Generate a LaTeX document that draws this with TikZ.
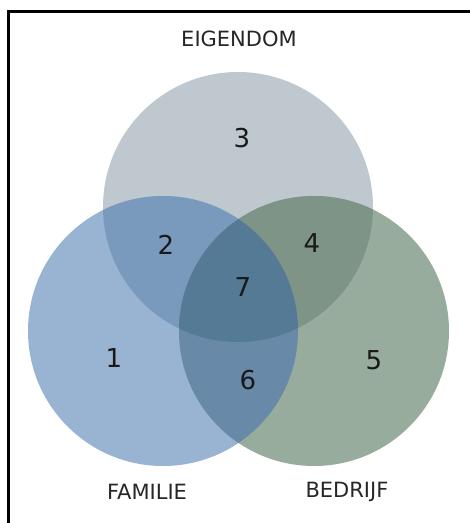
\documentclass[tikz,border=0pt]{standalone}
\usepackage{fontspec}
\setmainfont{DejaVu Sans}
\usetikzlibrary{positioning}
\definecolor{eigen}{HTML}{BEC8CE}
\definecolor{famil}{HTML}{99B3D2}
\definecolor{bedri}{HTML}{98AC9E}
\definecolor{famei}{HTML}{7A9ABD}
\definecolor{bedei}{HTML}{7D9486}
\definecolor{fambe}{HTML}{6889A8}
\definecolor{alle}{HTML}{557A96}
\begin{document}
\begin{tikzpicture}[x=1pt,y=-1pt,
  kader/.style={line width=3pt,draw=black},
  titel/.style={font=\fontsize{21}{25}\selectfont,text=black!85},
  cijfer/.style={font=\fontsize{26}{31}\selectfont,text=black!90}]
  \useasboundingbox (0,0) rectangle (470,523);
  \draw[kader] (8,523) -- (8,11) -- (470,11);
  % middelpunten van de cirkels
  \coordinate (E) at (238,207);
  \coordinate (F) at (163,331);
  \coordinate (B) at (314,331);
  \fill[eigen] (E) circle (135pt);
  \fill[famil] (F) circle (135pt);
  \fill[bedri] (B) circle (135pt);
  \begin{scope}
    \clip (E) circle (135pt);
    \fill[famei] (F) circle (135pt);
    \fill[bedei] (B) circle (135pt);
  \end{scope}
  \begin{scope}
    \clip (F) circle (135pt);
    \fill[fambe] (B) circle (135pt);
    \clip (E) circle (135pt);
    \fill[alle] (B) circle (135pt);
  \end{scope}
  % namen
  \node[titel] (eig) at (239,39) {EIGENDOM};
  \node[titel] (fam) at (147,492) {FAMILIE};
  \node[titel] (bed) at (347,492) {BEDRIJF};
  % gebieden
  \node[cijfer] (n1) at (114,358) {1};
  \node[cijfer] (n2) at (166,245) {2};
  \node[cijfer] (n3) at (242,138) {3};
  \node[cijfer] (n4) at (312,243) {4};
  \node[cijfer] (n5) at (374,360) {5};
  \node[cijfer] (n6) at (248,380) {6};
  \node[cijfer] (n7) at (243,287) {7};
\end{tikzpicture}
\end{document}
